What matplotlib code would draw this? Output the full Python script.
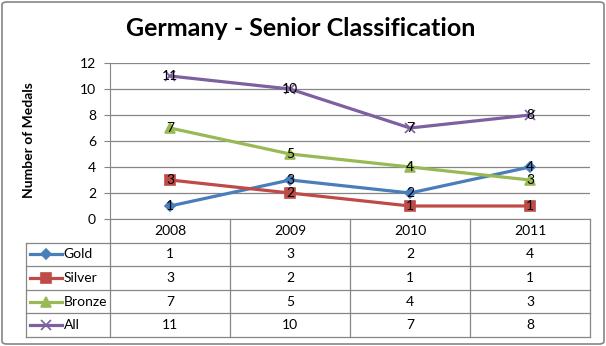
import numpy as np
import matplotlib
matplotlib.use('Agg')
import matplotlib.pyplot as plt
import matplotlib.transforms as mtransforms
from matplotlib.patches import FancyBboxPatch

# Data
years = ['2008', '2009', '2010', '2011']
gold = [1, 3, 2, 4]
silver = [3, 2, 1, 1]
bronze = [7, 5, 4, 3]
all_medals = [11, 10, 7, 8]

series_names = ['Gold', 'Silver', 'Bronze', 'All']
series_values = [gold, silver, bronze, all_medals]
colors = ['#4A7EBB', '#BE4B48', '#98B954', '#7D60A0']
markers = ['D', 's', '^', 'x']
msizes = [5.5, 6.5, 7.5, 7]

plt.rcParams['font.family'] = ['Lato', 'DejaVu Sans']
fs = 10

W, H = 606, 346
fig = plt.figure(figsize=(W / 100, H / 100), dpi=100)


def px(x0, y0, x1, y1):
    return [x0 / W, 1 - y1 / H, (x1 - x0) / W, (y1 - y0) / H]


gray = '#868686'
ax = fig.add_axes(px(110, 63, 590, 219))
x = np.arange(len(years))
for name, vals, c, m, ms in zip(series_names, series_values, colors, markers, msizes):
    ax.plot(x, vals, color=c, lw=2.3, marker=m, ms=ms, mew=1.2, zorder=3, clip_on=False)
    for xi, v in zip(x, vals):
        ax.text(xi, v, str(v), ha='center', va='center', fontsize=fs, zorder=4)

ax.set_xlim(-0.5, 3.5)
ax.set_ylim(0, 12)
ax.set_yticks(range(0, 13, 2))
ax.set_xticks([])
ax.grid(axis='y', color=gray, lw=0.9)
ax.set_axisbelow(True)
for s in ['top', 'right']:
    ax.spines[s].set_visible(False)
for s in ['left', 'bottom']:
    ax.spines[s].set_color(gray)
ax.tick_params(axis='y', length=4, color=gray, labelsize=fs, pad=6)

# data table below the axes
trans = mtransforms.blended_transform_factory(ax.transData, ax.transAxes)
rh = 23.6 / 156
n_rows = len(series_names) + 1
left_edge = -1.2
lkw = dict(color=gray, lw=0.9, transform=trans, clip_on=False)

for xv in np.arange(-0.5, len(years)):
    ax.plot([xv, xv], [0, -n_rows * rh], **lkw)
ax.plot([left_edge, left_edge], [-rh, -n_rows * rh], **lkw)
for i in range(1, n_rows + 1):
    ax.plot([left_edge, 3.5], [-i * rh, -i * rh], **lkw)

for j, yr in enumerate(years):
    ax.text(j, -rh / 2, yr, ha='center', va='center', fontsize=fs,
            transform=trans, clip_on=False)

for i, (name, vals, c, m, ms) in enumerate(zip(series_names, series_values, colors, markers, msizes)):
    yc = -(i + 1.5) * rh
    ax.plot([-1.167, -0.9], [yc, yc], color=c, lw=2.3, transform=trans, clip_on=False)
    ax.plot([-1.033], [yc], color=c, marker=m, ms=ms, mew=1.2, transform=trans, clip_on=False)
    ax.text(-0.885, yc, name, ha='left', va='center', fontsize=fs,
            transform=trans, clip_on=False)
    for j, v in enumerate(vals):
        ax.text(j, yc, str(v), ha='center', va='center', fontsize=fs,
                transform=trans, clip_on=False)

fig.text(301 / W, 1 - 36 / H, 'Germany - Senior Classification', ha='center', va='baseline',
         fontsize=18, fontweight='bold')
fig.text(29 / W, 1 - 140 / H, 'Number of Medals', ha='center', va='center',
         rotation=90, fontsize=fs, fontweight='bold')

border = FancyBboxPatch((2 / W, 2 / H), (W - 4) / W, (H - 4) / H,
                        boxstyle='round,pad=0,rounding_size=0.008',
                        transform=fig.transFigure, fill=False, ec=gray, lw=1.2)
fig.patches.append(border)

fig.savefig('out.png', dpi=100)
